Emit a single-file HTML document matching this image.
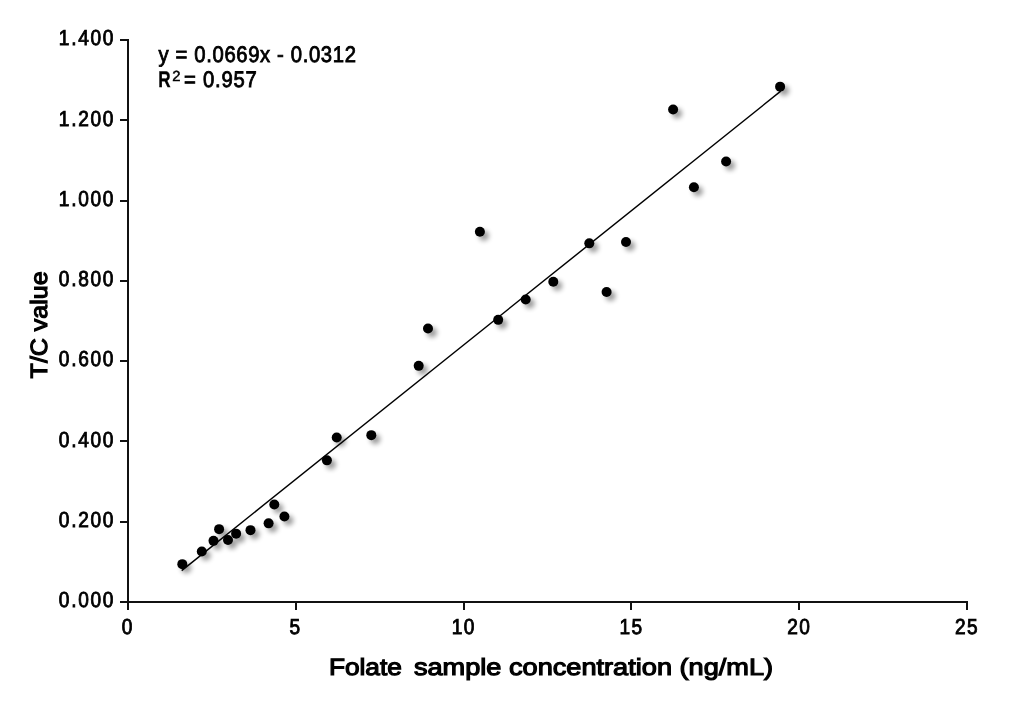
<!DOCTYPE html>
<html><head><meta charset="utf-8"><style>
html,body{margin:0;padding:0;background:#fff;}
body{width:1014px;height:704px;overflow:hidden;}
svg{display:block;will-change:transform;}
text{font-family:"Liberation Sans", sans-serif;fill:#000;text-rendering:geometricPrecision;}
</style></head><body>
<svg width="1014" height="704" viewBox="0 0 1014 704">
<defs>
<filter id="sh" x="-100%" y="-100%" width="300%" height="300%">
<feGaussianBlur in="SourceAlpha" stdDeviation="2.4"/>
<feOffset dx="3.8" dy="4" result="b"/>
<feComponentTransfer><feFuncA type="linear" slope="0.4"/></feComponentTransfer>
</filter>
</defs>
<rect width="1014" height="704" fill="#fff"/>

<g stroke="#111" stroke-width="2" fill="none" shape-rendering="crispEdges">
<line x1="128.0" y1="39.0" x2="128.0" y2="610.0"/>
<line x1="120.0" y1="602.0" x2="967.0" y2="602.0"/>
<line x1="120.0" y1="602.00" x2="128.0" y2="602.00"/>
<line x1="120.0" y1="521.71" x2="128.0" y2="521.71"/>
<line x1="120.0" y1="441.43" x2="128.0" y2="441.43"/>
<line x1="120.0" y1="361.14" x2="128.0" y2="361.14"/>
<line x1="120.0" y1="280.86" x2="128.0" y2="280.86"/>
<line x1="120.0" y1="200.57" x2="128.0" y2="200.57"/>
<line x1="120.0" y1="120.29" x2="128.0" y2="120.29"/>
<line x1="120.0" y1="40.00" x2="128.0" y2="40.00"/>
<line x1="128.00" y1="601.0" x2="128.00" y2="610.0"/>
<line x1="295.80" y1="601.0" x2="295.80" y2="610.0"/>
<line x1="463.60" y1="601.0" x2="463.60" y2="610.0"/>
<line x1="631.40" y1="601.0" x2="631.40" y2="610.0"/>
<line x1="799.20" y1="601.0" x2="799.20" y2="610.0"/>
<line x1="967.00" y1="601.0" x2="967.00" y2="610.0"/>
</g>
<text transform="translate(113.4,607) scale(0.88,1)" text-anchor="end" font-size="21.7" stroke="#000" stroke-width="0.9" textLength="62.05" lengthAdjust="spacing">0.000</text>
<text transform="translate(113.4,527) scale(0.88,1)" text-anchor="end" font-size="21.7" stroke="#000" stroke-width="0.9" textLength="62.05" lengthAdjust="spacing">0.200</text>
<text transform="translate(113.4,447) scale(0.88,1)" text-anchor="end" font-size="21.7" stroke="#000" stroke-width="0.9" textLength="62.05" lengthAdjust="spacing">0.400</text>
<text transform="translate(113.4,366) scale(0.88,1)" text-anchor="end" font-size="21.7" stroke="#000" stroke-width="0.9" textLength="62.05" lengthAdjust="spacing">0.600</text>
<text transform="translate(113.4,286) scale(0.88,1)" text-anchor="end" font-size="21.7" stroke="#000" stroke-width="0.9" textLength="62.05" lengthAdjust="spacing">0.800</text>
<text transform="translate(113.4,206) scale(0.88,1)" text-anchor="end" font-size="21.7" stroke="#000" stroke-width="0.9" textLength="62.05" lengthAdjust="spacing">1.000</text>
<text transform="translate(113.4,126) scale(0.88,1)" text-anchor="end" font-size="21.7" stroke="#000" stroke-width="0.9" textLength="62.05" lengthAdjust="spacing">1.200</text>
<text transform="translate(113.4,45) scale(0.88,1)" text-anchor="end" font-size="21.7" stroke="#000" stroke-width="0.9" textLength="62.05" lengthAdjust="spacing">1.400</text>
<text transform="translate(127.00,634) scale(0.88,1)" text-anchor="middle" font-size="21.7" stroke="#000" stroke-width="0.9" textLength="13.18" lengthAdjust="spacing">0</text>
<text transform="translate(294.80,634) scale(0.88,1)" text-anchor="middle" font-size="21.7" stroke="#000" stroke-width="0.9" textLength="13.18" lengthAdjust="spacing">5</text>
<text transform="translate(463.00,634) scale(0.88,1)" text-anchor="middle" font-size="21.7" stroke="#000" stroke-width="0.9" textLength="25.68" lengthAdjust="spacing">10</text>
<text transform="translate(630.80,634) scale(0.88,1)" text-anchor="middle" font-size="21.7" stroke="#000" stroke-width="0.9" textLength="25.68" lengthAdjust="spacing">15</text>
<text transform="translate(798.60,634) scale(0.88,1)" text-anchor="middle" font-size="21.7" stroke="#000" stroke-width="0.9" textLength="25.68" lengthAdjust="spacing">20</text>
<text transform="translate(966.40,634) scale(0.88,1)" text-anchor="middle" font-size="21.7" stroke="#000" stroke-width="0.9" textLength="25.68" lengthAdjust="spacing">25</text>
<text x="328.9" y="674.6" font-size="23.5" stroke="#000" stroke-width="1.15" textLength="73" lengthAdjust="spacingAndGlyphs">Folate</text>
<text x="413.9" y="674.6" font-size="23.5" stroke="#000" stroke-width="1.15" textLength="359.2" lengthAdjust="spacingAndGlyphs">sample concentration (ng/mL)</text>
<text transform="translate(46.7,324.9) rotate(-90)" x="0" y="0" text-anchor="middle" font-size="23.5" stroke="#000" stroke-width="1.15" textLength="107" lengthAdjust="spacingAndGlyphs">T/C value</text>
<text transform="translate(158.6,61.5) scale(0.9,1)" font-size="22.5" stroke="#000" stroke-width="0.85" textLength="219.22" lengthAdjust="spacing">y = 0.0669x - 0.0312</text>
<text x="158.2" y="86.8" font-size="22.5" font-weight="bold" stroke="#000" stroke-width="0.3" textLength="12.4" lengthAdjust="spacingAndGlyphs">R</text>
<text x="172.3" y="80.8" font-size="14.8" stroke="#000" stroke-width="0.5">2</text>
<text transform="translate(183.9,86.8) scale(0.9,1)" font-size="22.5" stroke="#000" stroke-width="0.85" textLength="81.00" lengthAdjust="spacing" xml:space="preserve">= 0.957</text>
<g filter="url(#sh)">
<circle cx="182.3" cy="564.15" r="5"/>
<circle cx="201.8" cy="551.45" r="5"/>
<circle cx="213.5" cy="540.85" r="5"/>
<circle cx="219.1" cy="529.15" r="5"/>
<circle cx="228.0" cy="540.05" r="5"/>
<circle cx="236.1" cy="533.65" r="5"/>
<circle cx="250.5" cy="530.15" r="5"/>
<circle cx="268.6" cy="523.35" r="5"/>
<circle cx="274.3" cy="504.55" r="5"/>
<circle cx="284.4" cy="516.45" r="5"/>
<circle cx="326.9" cy="460.35" r="5"/>
<circle cx="336.7" cy="437.55" r="5"/>
<circle cx="371.3" cy="435.15" r="5"/>
<circle cx="418.7" cy="365.85" r="5"/>
<circle cx="428.0" cy="328.55" r="5"/>
<circle cx="479.9" cy="231.75" r="5"/>
<circle cx="498.2" cy="319.85" r="5"/>
<circle cx="525.7" cy="299.55" r="5"/>
<circle cx="553.3" cy="281.75" r="5"/>
<circle cx="589.3" cy="243.35" r="5"/>
<circle cx="606.6" cy="291.95" r="5"/>
<circle cx="626.0" cy="242.05" r="5"/>
<circle cx="673.1" cy="109.55" r="5"/>
<circle cx="693.9" cy="187.25" r="5"/>
<circle cx="726.1" cy="161.45" r="5"/>
<circle cx="780.1" cy="86.65" r="5"/>
</g>
<line x1="181.70" y1="570.56" x2="780.74" y2="91.18" stroke="#000" stroke-width="1.45"/>
<g fill="#000">
<circle cx="182.3" cy="564.15" r="5"/>
<circle cx="201.8" cy="551.45" r="5"/>
<circle cx="213.5" cy="540.85" r="5"/>
<circle cx="219.1" cy="529.15" r="5"/>
<circle cx="228.0" cy="540.05" r="5"/>
<circle cx="236.1" cy="533.65" r="5"/>
<circle cx="250.5" cy="530.15" r="5"/>
<circle cx="268.6" cy="523.35" r="5"/>
<circle cx="274.3" cy="504.55" r="5"/>
<circle cx="284.4" cy="516.45" r="5"/>
<circle cx="326.9" cy="460.35" r="5"/>
<circle cx="336.7" cy="437.55" r="5"/>
<circle cx="371.3" cy="435.15" r="5"/>
<circle cx="418.7" cy="365.85" r="5"/>
<circle cx="428.0" cy="328.55" r="5"/>
<circle cx="479.9" cy="231.75" r="5"/>
<circle cx="498.2" cy="319.85" r="5"/>
<circle cx="525.7" cy="299.55" r="5"/>
<circle cx="553.3" cy="281.75" r="5"/>
<circle cx="589.3" cy="243.35" r="5"/>
<circle cx="606.6" cy="291.95" r="5"/>
<circle cx="626.0" cy="242.05" r="5"/>
<circle cx="673.1" cy="109.55" r="5"/>
<circle cx="693.9" cy="187.25" r="5"/>
<circle cx="726.1" cy="161.45" r="5"/>
<circle cx="780.1" cy="86.65" r="5"/>
</g>
</svg></body></html>
